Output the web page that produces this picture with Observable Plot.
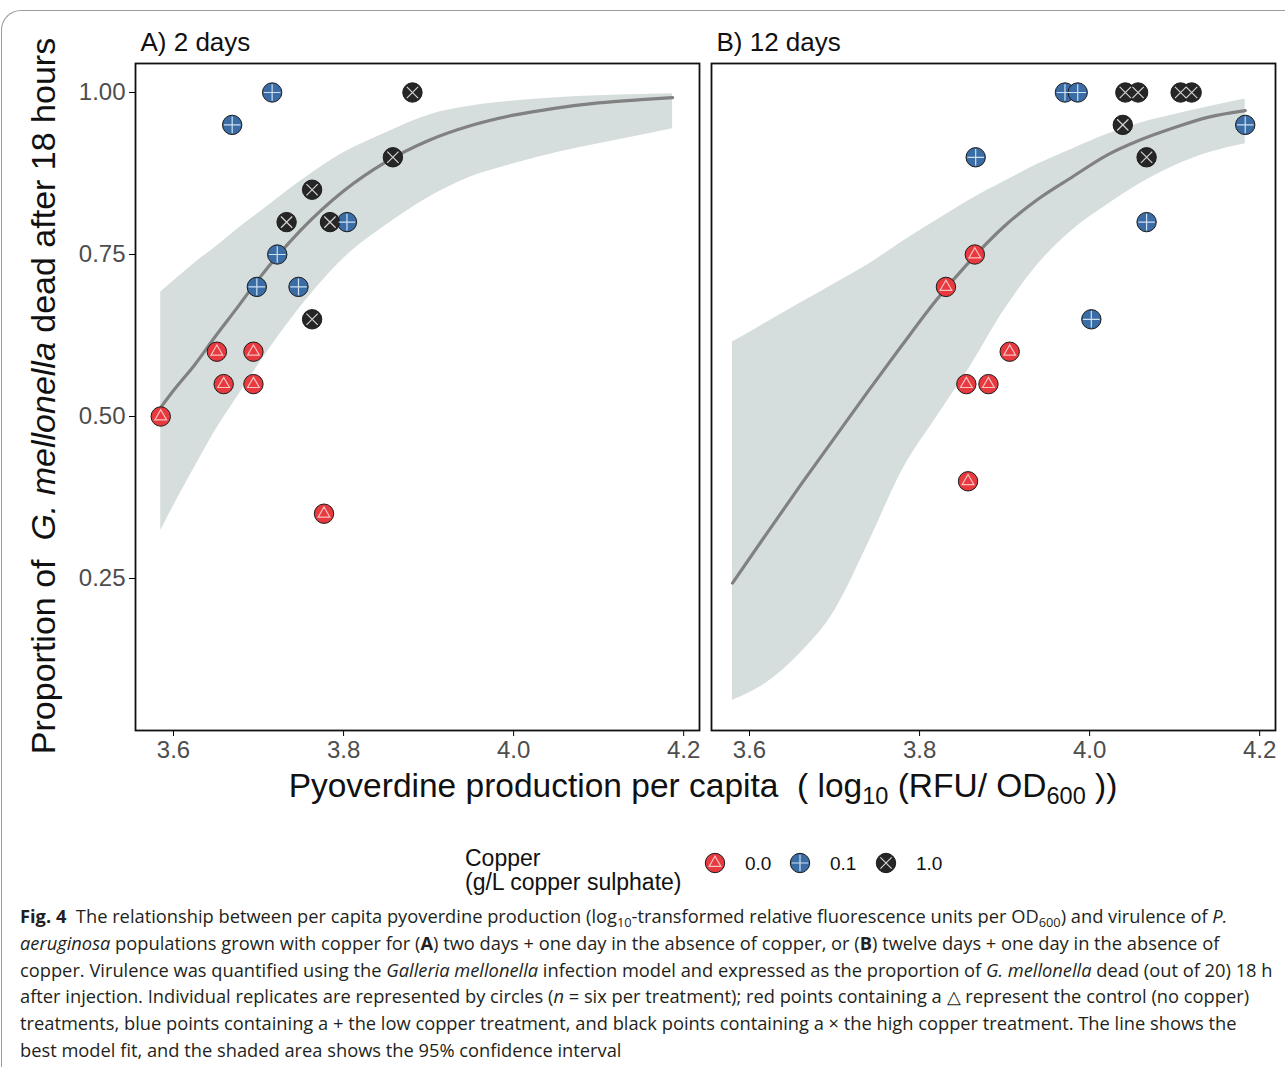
<!DOCTYPE html>
<html>
<head>
<meta charset="utf-8">
<script src="https://cdn.jsdelivr.net/npm/d3@7"></script>
<script src="https://cdn.jsdelivr.net/npm/@observablehq/plot@0.6"></script>
<style>
  body { margin: 0; background: #fff; width: 1285px; height: 1067px; position: relative; overflow: hidden; }
  #box { position: absolute; left: 1px; top: 10px; width: 1320px; height: 1100px; border-top: 1px solid #9c9c9c; border-left: 1px solid #9c9c9c; border-top-left-radius: 20px; }
  #chart { position: absolute; left: 0; top: 0; }
  #legend { position: absolute; left: 0; top: 835px; }
  #caption { position: absolute; left: 20px; top: 903px; font-family: "Open Sans", sans-serif; font-size: 18.3px; line-height: 26.8px; color: #231f20; white-space: nowrap; letter-spacing: 0px; }
  #caption sub { font-size: 70%; vertical-align: -0.3em; line-height: 0; }
  #chart g[aria-label="y-axis tick label"], #chart g[aria-label="x-axis tick label"] { fill: #4d4d4d; }
</style>
</head>
<body>
<div id="box"></div>
<div id="chart"></div>
<div id="legend"></div>
<div id="caption">
<div><b>Fig. 4</b>&nbsp; The relationship between per capita pyoverdine production (log<sub>10</sub>-transformed relative fluorescence units per OD<sub>600</sub>) and virulence of <i>P.</i></div>
<div><i>aeruginosa</i> populations grown with copper for (<b>A</b>) two days + one day in the absence of copper, or (<b>B</b>) twelve days + one day in the absence of</div>
<div>copper. Virulence was quantified using the <i>Galleria mellonella</i> infection model and expressed as the proportion of <i>G. mellonella</i> dead (out of 20) 18 h</div>
<div>after injection. Individual replicates are represented by circles (<i>n</i> = six per treatment); red points containing a △ represent the control (no copper)</div>
<div>treatments, blue points containing a + the low copper treatment, and black points containing a × the high copper treatment. The line shows the</div>
<div>best model fit, and the shaded area shows the 95% confidence interval</div>
</div>
<script>
// ---- Data ----
const panels = ["A) 2 days", "B) 12 days"];
const copperLevels = ["0.0", "0.1", "1.0"];
const copperColors = ["#e8393e", "#3a6ca6", "#262626"];
const copperSymbols = ["triangle2", "plus", "times"];
const symbolColors = ["#f6c2c2", "#cfe0f1", "#d4d4d4"];
const xTicks = [3.6, 3.8, 4.0, 4.2];
const yTicks = [0.25, 0.50, 0.75, 1.00];

// Panel A (2 days) replicates
const aCopper = ["0.0","0.0","0.0","0.0","0.0","0.0","0.1","0.1","0.1","0.1","0.1","0.1","1.0","1.0","1.0","1.0","1.0","1.0"];
const aPyov   = [3.585, 3.651, 3.694, 3.659, 3.694, 3.777, 3.716, 3.669, 3.722, 3.698, 3.747, 3.804, 3.881, 3.858, 3.763, 3.733, 3.784, 3.763];
const aProp   = [0.50, 0.60, 0.60, 0.55, 0.55, 0.35, 1.00, 0.95, 0.75, 0.70, 0.70, 0.80, 1.00, 0.90, 0.85, 0.80, 0.80, 0.65];

// Panel B (12 days) replicates
const bCopper = ["0.0","0.0","0.0","0.0","0.0","0.0","0.1","0.1","0.1","0.1","0.1","0.1","1.0","1.0","1.0","1.0","1.0","1.0"];
const bPyov   = [3.865, 3.831, 3.855, 3.881, 3.857, 3.906, 3.866, 3.971, 3.986, 4.067, 4.002, 4.183, 4.042, 4.057, 4.107, 4.120, 4.039, 4.067];
const bProp   = [0.75, 0.70, 0.55, 0.55, 0.40, 0.60, 0.90, 1.00, 1.00, 0.80, 0.65, 0.95, 1.00, 1.00, 1.00, 1.00, 0.95, 0.90];

// Model fit and 95% CI, panel A
const aFitX  = [3.585, 3.60, 3.625, 3.65, 3.675, 3.70, 3.75, 3.80, 3.85, 3.90, 3.95, 4.00, 4.05, 4.10, 4.15, 4.187];
const aFit   = [0.514, 0.540, 0.580, 0.625, 0.668, 0.712, 0.788, 0.848, 0.893, 0.926, 0.949, 0.965, 0.976, 0.984, 0.989, 0.992];
const aUpper = [0.692, 0.709, 0.737, 0.762, 0.789, 0.814, 0.864, 0.907, 0.938, 0.965, 0.979, 0.987, 0.992, 0.995, 0.997, 0.998];
const aLower = [0.324, 0.362, 0.422, 0.480, 0.530, 0.580, 0.670, 0.744, 0.795, 0.838, 0.870, 0.890, 0.907, 0.921, 0.934, 0.944];

// Model fit and 95% CI, panel B
const bFitX  = [3.58, 3.62, 3.66, 3.70, 3.74, 3.78, 3.82, 3.86, 3.90, 3.94, 3.98, 4.02, 4.06, 4.10, 4.14, 4.183];
const bFit   = [0.243, 0.319, 0.394, 0.467, 0.540, 0.611, 0.680, 0.741, 0.794, 0.836, 0.870, 0.903, 0.927, 0.946, 0.962, 0.972];
const bUpper = [0.615, 0.645, 0.675, 0.705, 0.735, 0.770, 0.803, 0.835, 0.863, 0.890, 0.913, 0.935, 0.953, 0.966, 0.978, 0.990];
const bLower = [0.062, 0.089, 0.135, 0.200, 0.305, 0.418, 0.499, 0.578, 0.665, 0.736, 0.788, 0.826, 0.860, 0.887, 0.907, 0.921];

// ---- Tables built from the arrays ----
const points = [
  ...aPyov.map((x, i) => ({panel: panels[0], x, y: aProp[i], copper: aCopper[i]})),
  ...bPyov.map((x, i) => ({panel: panels[1], x, y: bProp[i], copper: bCopper[i]}))
];
const fits = [
  ...aFitX.map((x, i) => ({panel: panels[0], x, y: aFit[i], lo: aLower[i], hi: aUpper[i]})),
  ...bFitX.map((x, i) => ({panel: panels[1], x, y: bFit[i], lo: bLower[i], hi: bUpper[i]}))
];
const panelLabels = panels.map(p => ({panel: p}));

const symR = {"triangle2": 5.6, "plus": 5.4, "times": 5.2};

const svg = Plot.plot({
  width: 1285,
  height: 820,
  marginLeft: 135,
  marginRight: 10,
  marginTop: 63,
  marginBottom: 90,
  style: {fontFamily: "'Liberation Sans', Arial, sans-serif", fontSize: "24px", background: "transparent"},
  fx: {domain: panels, paddingInner: 0.0215, paddingOuter: 0, axis: null},
  x: {domain: [3.5553, 4.2186], ticks: xTicks, tickFormat: ".1f", tickSize: 6, tickPadding: 4, label: null},
  y: {domain: [0.01545, 1.04475], ticks: yTicks, tickFormat: ".2f", tickSize: 6, tickPadding: 4, label: null},
  color: {domain: copperLevels, range: copperColors},
  marks: [
    Plot.areaY(fits, {fx: "panel", x: "x", y1: "lo", y2: "hi", fill: "#d6dedd", curve: "monotone-x"}),
    Plot.line(fits, {fx: "panel", x: "x", y: "y", stroke: "#818181", strokeWidth: 3.2, curve: "monotone-x"}),
    Plot.dot(points, {fx: "panel", x: "x", y: "y", r: 9.7, fill: "copper", stroke: "#1b1b1b", strokeWidth: 1}),
    ...copperLevels.map((c, i) => Plot.dot(points.filter(d => d.copper === c), {
      fx: "panel", x: "x", y: "y", symbol: () => copperSymbols[i], r: symR[copperSymbols[i]],
      stroke: symbolColors[i], strokeWidth: 1.2, fill: "none"
    })),
    Plot.frame({stroke: "#111", strokeWidth: 1.8}),
    Plot.text(panelLabels, {fx: "panel", text: "panel", frameAnchor: "top-left", textAnchor: "start", lineAnchor: "bottom", dx: 5, dy: -13, fontSize: 26, fill: "#111"})
  ]
});
document.getElementById("chart").appendChild(svg);

const s = d3.select(svg);
// y-axis title with italic species name
const yt = s.append("text")
  .attr("transform", "translate(55,396) rotate(-90)")
  .attr("text-anchor", "middle")
  .attr("font-size", 34)
  .attr("fill", "#111")
  .style("white-space", "pre");
yt.append("tspan").text("Proportion of  ");
yt.append("tspan").attr("font-style", "italic").text("G. mellonella");
yt.append("tspan").text(" dead after 18 hours");

// x-axis title with subscripts
const xt = s.append("text")
  .attr("x", 703).attr("y", 797)
  .attr("text-anchor", "middle")
  .attr("font-size", 33.5)
  .attr("fill", "#111")
  .style("white-space", "pre");
xt.append("tspan").text("Pyoverdine production per capita  ( log");
xt.append("tspan").attr("font-size", 23.5).attr("dy", 7).text("10");
xt.append("tspan").attr("dy", -7).text(" (RFU/ OD");
xt.append("tspan").attr("font-size", 23.5).attr("dy", 7).text("600");
xt.append("tspan").attr("dy", -7).text(" ))");

// ---- Legend ----
const lg = d3.select("#legend").append("svg")
  .attr("width", 1285).attr("height", 64)
  .style("font-family", "'Liberation Sans', Arial, sans-serif");
lg.append("text").attr("x", 465).attr("y", 31).attr("font-size", 23).attr("fill", "#111").text("Copper");
lg.append("text").attr("x", 465).attr("y", 55).attr("font-size", 23).attr("fill", "#111").text("(g/L copper sulphate)");
const legendX = [715, 800, 886];
copperLevels.forEach((c, i) => {
  const g = lg.append("g").attr("transform", `translate(${legendX[i]},28)`);
  g.append("circle").attr("r", 9.7).attr("fill", copperColors[i]).attr("stroke", "#1b1b1b");
  const symType = {triangle2: d3.symbolTriangle2, plus: d3.symbolPlus, times: d3.symbolTimes}[copperSymbols[i]];
  const rr = symR[copperSymbols[i]];
  g.append("path").attr("d", d3.symbol(symType, Math.PI * rr * rr)()).attr("fill", "none").attr("stroke", symbolColors[i]).attr("stroke-width", 1.2);
  lg.append("text").attr("x", legendX[i] + 30).attr("y", 35).attr("font-size", 19).attr("fill", "#111").text(c);
});
</script>
</body>
</html>
